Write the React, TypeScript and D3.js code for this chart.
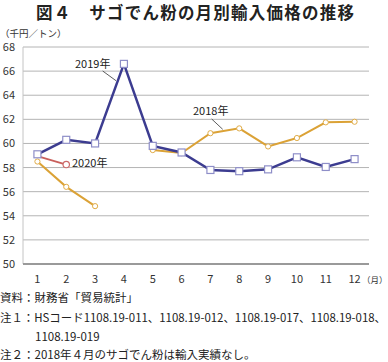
import React from "react";
import * as d3 from "d3";

const months = [1, 2, 3, 4, 5, 6, 7, 8, 9, 10, 11, 12];
const yTicks = [50, 52, 54, 56, 58, 60, 62, 64, 66, 68];
const v2018: (number | null)[] = [58.5, 56.4, 54.8, null, 59.45, 59.2, 60.85, 61.25, 59.75, 60.45, 61.75, 61.8];
const v2019: (number | null)[] = [59.1, 60.3, 60.0, 66.6, 59.8, 59.25, 57.8, 57.7, 57.85, 58.85, 58.05, 58.7];
const v2020: (number | null)[] = [58.95, 58.25];

const W = 388, H = 362;
const FONT = "'Noto Sans CJK JP', 'Noto Sans', sans-serif";

export default function App() {
  const x = d3.scaleBand<number>().domain(months).range([23, 369]);
  const y = d3.scaleLinear().domain([50, 68]).range([264, 47]);
  const cx = (m: number) => (x(m) as number) + x.bandwidth() / 2;

  const mk = (vals: (number | null)[]) =>
    vals.map((v, i) => ({ m: months[i], v }));
  const line = d3
    .line<{ m: number; v: number | null }>()
    .defined((d) => d.v !== null)
    .x((d) => cx(d.m))
    .y((d) => y(d.v as number));

  const s2018 = mk(v2018);
  const s2019 = mk(v2019);
  const s2020 = mk(v2020);

  return (
    <svg width={W} height={H} style={{ position: "absolute", left: 0, top: 0, background: "#fff" }} fontFamily={FONT}>
      <text x={195} y={19} textAnchor="middle" fontSize={16.5} fontWeight="bold" fill="#222" textLength={318} lengthAdjust="spacing">
        図４　サゴでん粉の月別輸入価格の推移
      </text>
      <text x={0} y={36.5} fontSize={9.5} fill="#333">（千円／トン）</text>

      {yTicks.map((t) =>
        t > 50 ? (
          <line key={"g" + t} x1={23} x2={369} y1={y(t)} y2={y(t)} stroke="#b4b4b4" strokeWidth={1} />
        ) : null
      )}
      <line x1={23} x2={23} y1={y(68)} y2={y(50)} stroke="#c4c4c4" strokeWidth={1} />
      <line x1={23} x2={369} y1={y(50)} y2={y(50)} stroke="#9a9a9a" strokeWidth={2} />

      {yTicks.map((t) => (
        <text key={"yt" + t} x={15} y={y(t) + 4} textAnchor="end" fontSize={11} fill="#333">
          {t}
        </text>
      ))}
      {months.map((m) => (
        <text key={"xt" + m} x={cx(m)} y={283} textAnchor="middle" fontSize={11} fill="#333">
          {m}
        </text>
      ))}
      <text x={362} y={283} fontSize={8.5} fill="#333">（月）</text>

      {/* 2018 */}
      <path d={line(s2018) || ""} fill="none" stroke="#dba236" strokeWidth={2} />
      {s2018.filter((d) => d.v !== null).map((d) => (
        <circle key={"a" + d.m} cx={cx(d.m)} cy={y(d.v as number)} r={2.6} fill="#fff" stroke="#e0ac48" strokeWidth={1} />
      ))}
      {/* 2020 */}
      <path d={line(s2020) || ""} fill="none" stroke="#c9605c" strokeWidth={1.8} />
      {s2020.slice(1).map((d) => (
        <circle key={"c" + d.m} cx={cx(d.m)} cy={y(d.v as number)} r={3.2} fill="#fff" stroke="#cc6a6a" strokeWidth={1.2} />
      ))}
      {/* 2019 */}
      <path d={line(s2019) || ""} fill="none" stroke="#3c3c90" strokeWidth={2.5} />
      {s2019.map((d) => (
        <rect key={"b" + d.m} x={cx(d.m) - 3.5} y={y(d.v as number) - 3.5} width={7} height={7} fill="#fff" stroke="#8e8ec8" strokeWidth={1.2} />
      ))}

      <text x={75} y={68} fontSize={11} fill="#222">2019年</text>
      <line x1={102.7} y1={71} x2={116} y2={80.7} stroke="#333" strokeWidth={0.8} />
      <text x={72} y={167} fontSize={11} fill="#222">2020年</text>
      <text x={193} y={115} fontSize={11} fill="#222">2018年</text>
      <line x1={211.7} y1={119} x2={222.7} y2={129.3} stroke="#333" strokeWidth={0.8} />

      <text x={0} y={302} fontSize={11.5} fill="#222">資料：財務省「貿易統計」</text>
      <text x={0} y={322} fontSize={11.5} fill="#222" textLength={386} lengthAdjust="spacingAndGlyphs">
        注１：HSコード1108.19-011、1108.19-012、1108.19-017、1108.19-018、
      </text>
      <text x={35} y={341} fontSize={11.5} fill="#222">1108.19-019</text>
      <text x={0} y={359} fontSize={11.5} fill="#222">注２：2018年４月のサゴでん粉は輸入実績なし。</text>
    </svg>
  );
}
